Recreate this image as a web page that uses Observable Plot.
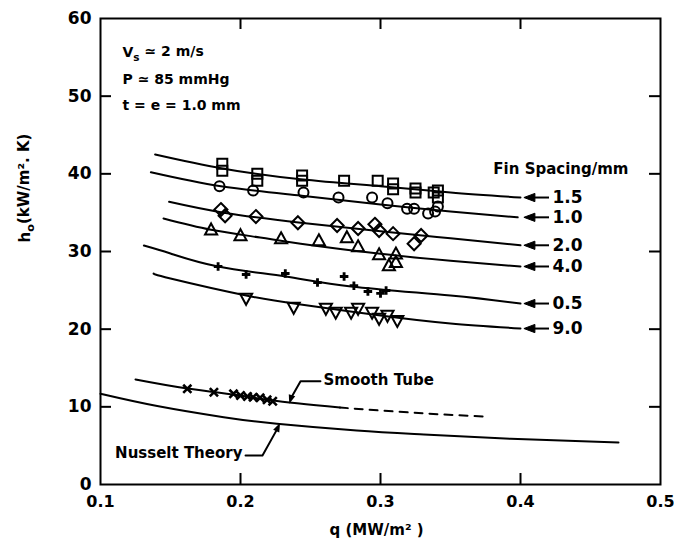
<!DOCTYPE html>
<html><head><meta charset="utf-8">
<script src="https://cdn.jsdelivr.net/npm/d3@7"></script>
<script src="https://cdn.jsdelivr.net/npm/@observablehq/plot@0.6"></script>
<style>body{margin:0;background:#fff}svg{display:block}</style>
</head><body><div id="chart"></div>
<script>
// ---- axes ----
const xTickValues = [0.1, 0.2, 0.3, 0.4, 0.5];
const yTickValues = [0, 10, 20, 30, 40, 50, 60];
const xInnerTicks = [0.2, 0.3, 0.4];
const yInnerTicks = [10, 20, 30, 40, 50];

// ---- fin spacing labels (right side) ----
const finLabels = ["1.5", "1.0", "2.0", "4.0", "0.5", "9.0"];
const finEndH = [36.95, 34.4, 30.8, 28.07, 23.3, 20.08];

// ---- fitted curves ----
const c15Q = [0.139, 0.187, 0.243, 0.300, 0.350, 0.400];
const c15H = [42.5, 40.7, 39.3, 38.4, 37.6, 36.95];
const c10Q = [0.136, 0.186, 0.243, 0.300, 0.350, 0.398];
const c10H = [40.2, 38.4, 37.2, 36.05, 35.15, 34.4];
const c20Q = [0.149, 0.188, 0.243, 0.300, 0.350, 0.400];
const c20H = [36.4, 35.0, 33.7, 32.6, 31.7, 30.8];
const c40Q = [0.145, 0.179, 0.214, 0.243, 0.300, 0.350, 0.400];
const c40H = [34.25, 32.8, 31.8, 31.0, 29.7, 28.8, 28.07];
const c05Q = [0.131, 0.150, 0.184, 0.232, 0.279, 0.350, 0.400];
const c05H = [30.77, 29.74, 28.07, 26.78, 25.5, 24.33, 23.3];
const c90Q = [0.138, 0.150, 0.204, 0.243, 0.300, 0.350, 0.400];
const c90H = [27.17, 26.52, 24.33, 23.17, 21.76, 20.73, 20.08];
const smoothSolidQ = [0.125, 0.162, 0.200, 0.223, 0.271];
const smoothSolidH = [13.52, 12.36, 11.46, 10.81, 9.91];
const smoothDashQ = [0.271, 0.321, 0.373];
const smoothDashH = [9.91, 9.27, 8.75];
const nusseltQ = [0.100, 0.1405, 0.188, 0.226, 0.283, 0.331, 0.393, 0.470];
const nusseltH = [11.68, 10.1, 8.66, 7.81, 6.95, 6.44, 5.88, 5.4];

// ---- measured points ----
const sq15Q = [0.187, 0.187, 0.212, 0.212, 0.244, 0.244, 0.274, 0.298, 0.309, 0.309, 0.325, 0.325, 0.338, 0.341, 0.341];
const sq15H = [41.3, 40.4, 40.0, 39.1, 39.8, 39.1, 39.1, 39.1, 38.75, 38.0, 38.1, 37.6, 37.6, 37.85, 36.95];
const ci10Q = [0.185, 0.209, 0.245, 0.270, 0.294, 0.305, 0.319, 0.324, 0.334, 0.339, 0.341];
const ci10H = [38.4, 37.85, 37.6, 36.95, 36.95, 36.2, 35.5, 35.5, 34.9, 35.15, 35.8];
const di20Q = [0.186, 0.189, 0.211, 0.241, 0.269, 0.284, 0.296, 0.299, 0.309, 0.324, 0.329];
const di20H = [35.4, 34.6, 34.5, 33.7, 33.35, 32.96, 33.5, 32.7, 32.3, 31.0, 32.06];
const tr40Q = [0.179, 0.200, 0.229, 0.256, 0.276, 0.284, 0.299, 0.311, 0.306, 0.311];
const tr40H = [32.8, 32.06, 31.67, 31.4, 31.8, 30.64, 29.6, 29.7, 28.2, 28.6];
const pl05Q = [0.184, 0.204, 0.232, 0.255, 0.274, 0.281, 0.291, 0.300, 0.304];
const pl05H = [28.07, 27.04, 27.17, 26.0, 26.78, 25.6, 24.85, 24.6, 24.98];
const td90Q = [0.204, 0.238, 0.261, 0.268, 0.279, 0.284, 0.294, 0.299, 0.305, 0.312];
const td90H = [23.95, 22.79, 22.66, 22.15, 22.15, 22.66, 22.15, 21.37, 21.76, 21.1];
const stQ = [0.162, 0.181, 0.195, 0.200, 0.205, 0.209, 0.214, 0.219, 0.223];
const stH = [12.32, 11.88, 11.67, 11.46, 11.33, 11.24, 11.16, 10.9, 10.72];

// ---- annotation texts ----
const conditionLines = ["V_s ≃ 2 m/s", "P ≃ 85 mmHg", "t = e = 1.0 mm"];
const finTitle = "Fin Spacing/mm";
const smoothLabel = "Smooth Tube";
const nusseltLabel = "Nusselt Theory";
const xLabel = "q (MW/m² )";
const yLabel = "h_o(kW/m². K)";

// helpers
const pts = (Q, H) => Q.map((q, i) => ({q, h: H[i]}));
const sym = (p) => ({draw(ctx, size) {
  const r = Math.sqrt(size / Math.PI);
  ctx.moveTo(p[0][0] * r, p[0][1] * r);
  for (let i = 1; i < p.length; ++i) ctx.lineTo(p[i][0] * r, p[i][1] * r);
  ctx.closePath();
}});
const square = sym([[-1, -1], [1, -1], [1, 1], [-1, 1]]);
const diamond = sym([[0, -1.3], [1.3, 0], [0, 1.3], [-1.3, 0]]);
const triUp = sym([[0, -1.15], [1.1, 0.85], [-1.1, 0.85]]);
const triDown = sym([[0, 1.15], [1.1, -0.85], [-1.1, -0.85]]);
const triLeft = sym([[-1.2, 0], [0.8, -0.75], [0.8, 0.75]]);
const head = (ang) => {
  const a = ang * Math.PI / 180, c = Math.cos(a), s = Math.sin(a);
  const base = [[1.2, 0], [-0.8, -0.75], [-0.8, 0.75]];
  return sym(base.map(([x, y]) => [x * c - y * s, x * s + y * c]));
};

const curves = [[c15Q, c15H], [c10Q, c10H], [c20Q, c20H], [c40Q, c40H], [c05Q, c05H], [c90Q, c90H]];
const fins = finLabels.map((t, i) => ({t, h: finEndH[i]}));
const F = "DejaVu Sans, sans-serif";
const open = {fill: "none", stroke: "black", strokeWidth: 2};
const condDy = [29, 56, 82];

const marks = [
  Plot.frame({stroke: "black", strokeWidth: 2}),
  Plot.ruleX(xInnerTicks, {x: d => d, insetTop: 455, stroke: "black", strokeWidth: 2}),
  Plot.ruleX(xInnerTicks, {x: d => d, insetBottom: 455, stroke: "black", strokeWidth: 2}),
  Plot.ruleY(yInnerTicks, {y: d => d, insetRight: 549, stroke: "black", strokeWidth: 2}),
  Plot.ruleY(yInnerTicks, {y: d => d, insetLeft: 549, stroke: "black", strokeWidth: 2}),
  Plot.text(xTickValues, {x: d => d, frameAnchor: "bottom", dy: 22, text: d => d.toFixed(1), fontSize: 16, fontWeight: "bold"}),
  Plot.text(yTickValues, {y: d => d, frameAnchor: "left", dx: -9, textAnchor: "end", text: d => String(d), fontSize: 17, fontWeight: "bold"}),
  Plot.text([xLabel], {frameAnchor: "bottom", dx: -4, dy: 50, text: d => d, fontSize: 15, fontWeight: "bold"}),
  Plot.text([yLabel], {frameAnchor: "left", dx: -75, dy: -9, rotate: -90, text: d => d, fontSize: 15, fontWeight: "bold"}),
  ...curves.map(([Q, H]) => Plot.line(pts(Q, H), {x: "q", y: "h", curve: "natural", stroke: "black", strokeWidth: 2})),
  Plot.line(pts(smoothSolidQ, smoothSolidH), {x: "q", y: "h", curve: "natural", stroke: "black", strokeWidth: 2}),
  Plot.line(pts(smoothDashQ, smoothDashH), {x: "q", y: "h", curve: "natural", stroke: "black", strokeWidth: 2, strokeDasharray: "8,7"}),
  Plot.line(pts(nusseltQ, nusseltH), {x: "q", y: "h", curve: "natural", stroke: "black", strokeWidth: 2}),
  Plot.dot(pts(sq15Q, sq15H), {x: "q", y: "h", symbol: square, r: 5, ...open}),
  Plot.dot(pts(ci10Q, ci10H), {x: "q", y: "h", symbol: "circle", r: 5, ...open}),
  Plot.dot(pts(di20Q, di20H), {x: "q", y: "h", symbol: diamond, r: 5, ...open}),
  Plot.dot(pts(tr40Q, tr40H), {x: "q", y: "h", symbol: triUp, r: 5.5, ...open}),
  Plot.dot(pts(td90Q, td90H), {x: "q", y: "h", symbol: triDown, r: 5.5, ...open}),
  Plot.dot(pts(pl05Q, pl05H), {x: "q", y: "h", symbol: "cross", r: 3.6, fill: "black", stroke: "none"}),
  Plot.dot(pts(stQ, stH), {x: "q", y: "h", symbol: "times", r: 3.8, fill: "none", stroke: "black", strokeWidth: 2.6}),
  // fin-spacing labels with arrows
  Plot.tickY(fins, {y: "h", insetLeft: 434, insetRight: 111, stroke: "black", strokeWidth: 2}),
  Plot.dot(fins, {y: "h", frameAnchor: "right", dx: -130, symbol: triLeft, r: 5.5, fill: "black", stroke: "black", strokeWidth: 1}),
  Plot.text(fins, {y: "h", frameAnchor: "right", dx: -108, textAnchor: "start", text: "t", fontSize: 17, fontWeight: "bold"}),
  Plot.text([finTitle], {frameAnchor: "top-right", dx: -32, dy: 145, textAnchor: "end", text: d => d, fontSize: 15, fontWeight: "bold"}),
  // test conditions
  ...conditionLines.map((s, i) => Plot.text([s], {frameAnchor: "top-left", dx: 22, dy: condDy[i], text: d => d, fontSize: 14, fontWeight: "bold", textAnchor: "start"})),
  // smooth tube leader
  Plot.line([{q: 0.2571, h: 13.3}, {q: 0.2429, h: 13.3}, {q: 0.2366, h: 11.3}], {x: "q", y: "h", stroke: "black", strokeWidth: 2}),
  Plot.dot([{q: 0.2360, h: 11.05}], {x: "q", y: "h", symbol: head(108), r: 4.5, fill: "black"}),
  Plot.text([smoothLabel], {x: () => 0.2593, y: () => 13.39, textAnchor: "start", text: d => d, fontSize: 15, fontWeight: "bold"}),
  // nusselt leader
  Plot.line([{q: 0.2036, h: 3.73}, {q: 0.2157, h: 3.73}, {q: 0.2258, h: 7.0}], {x: "q", y: "h", stroke: "black", strokeWidth: 2}),
  Plot.dot([{q: 0.2266, h: 7.3}], {x: "q", y: "h", symbol: head(-65), r: 4.5, fill: "black"}),
  Plot.text([nusseltLabel], {x: () => 0.2014, y: () => 3.99, textAnchor: "end", text: d => d, fontSize: 15, fontWeight: "bold"})
];

const chart = Plot.plot({
  width: 674, height: 550,
  marginLeft: 100, marginRight: 14, marginTop: 18, marginBottom: 66,
  x: {domain: [0.1, 0.5], axis: null},
  y: {domain: [0, 60], axis: null},
  style: {fontFamily: F, background: "white", color: "black"},
  marks
});

// subscripts (V_s, h_o)
d3.select(chart).selectAll("text").each(function () {
  const s = this.textContent;
  const m = /^(.*?)_(\w)(.*)$/.exec(s);
  if (!m) return;
  const t = d3.select(this);
  t.text(null);
  t.append("tspan").text(m[1]);
  t.append("tspan").attr("dy", "0.3em").attr("font-size", "0.75em").text(m[2]);
  t.append("tspan").attr("dy", "-0.3em").text(m[3]);
});
document.getElementById("chart").appendChild(chart);
</script>
</body></html>
